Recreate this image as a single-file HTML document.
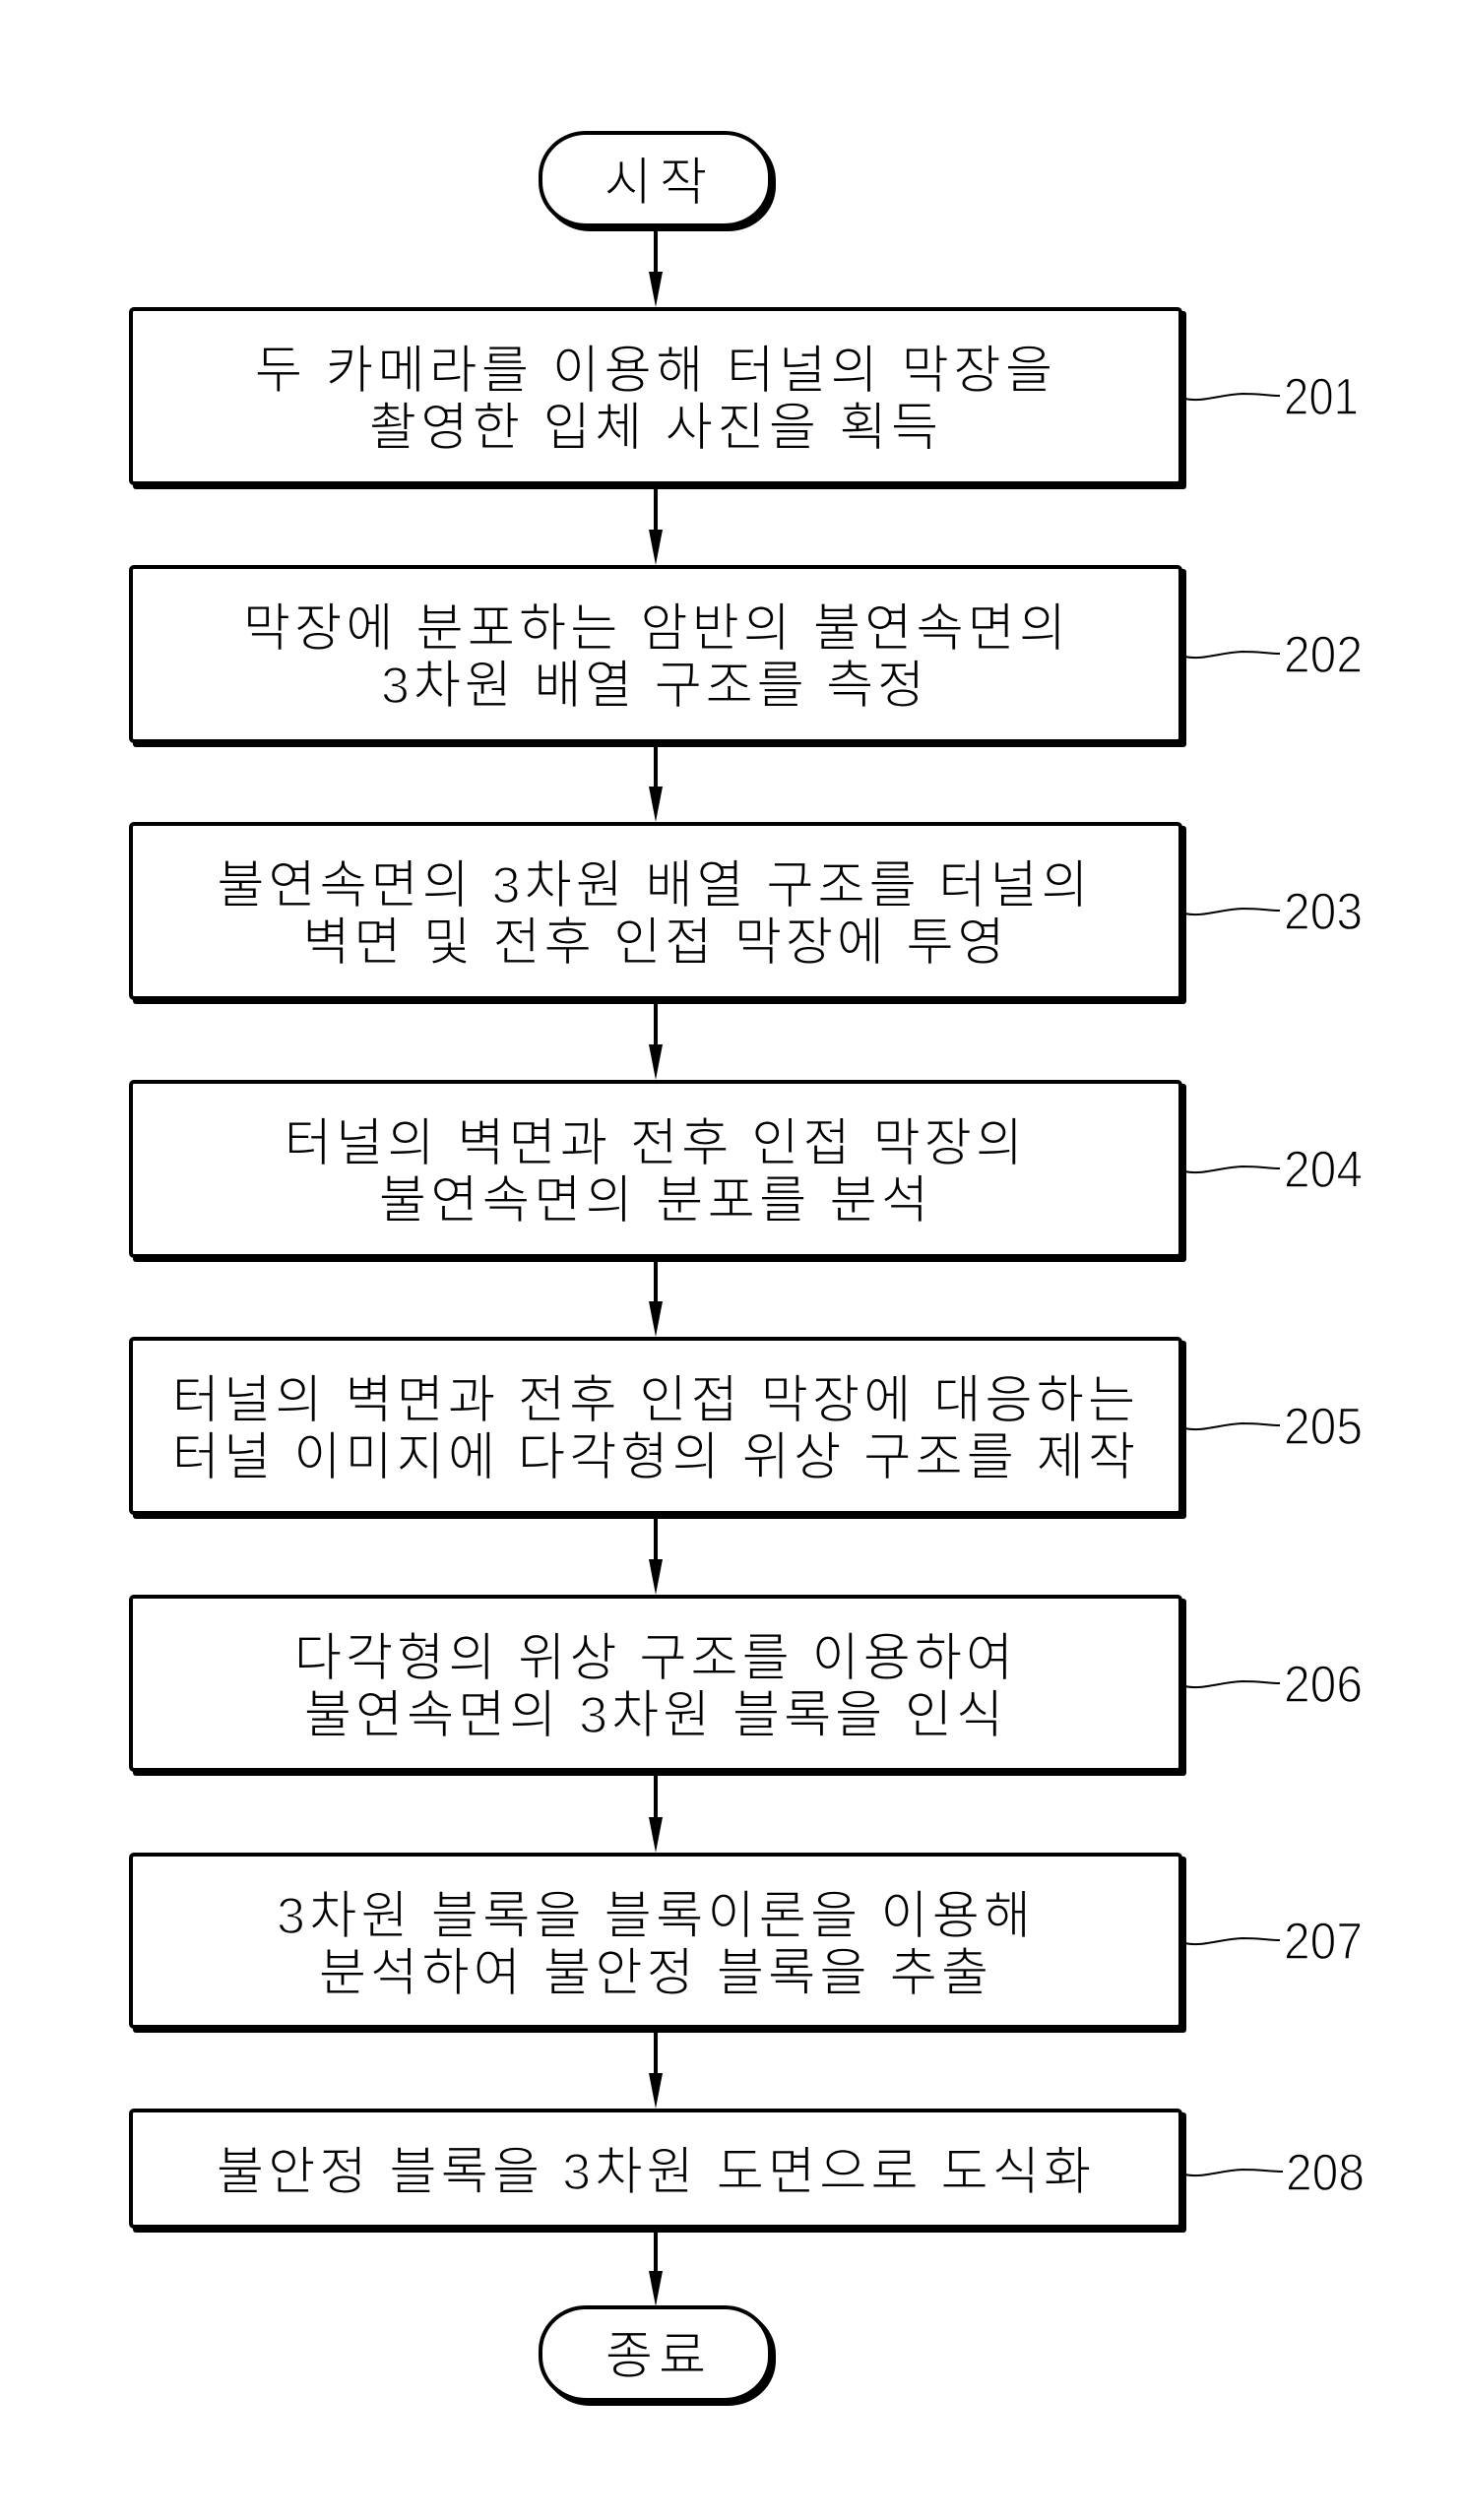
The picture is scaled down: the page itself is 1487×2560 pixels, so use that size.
<!DOCTYPE html>
<html>
<head>
<meta charset="utf-8">
<style>
html,body{margin:0;padding:0;background:#fff;}
svg{display:block;}
text{font-family:"Liberation Sans","Noto Sans CJK KR",sans-serif;fill:#000;}
.t{font-size:52px;font-weight:300;}
.n{font-size:53px;stroke:#fff;stroke-width:1.4px;}
.d{stroke:#fff;stroke-width:1.6px;}
</style>
</head>
<body>
<svg width="1487" height="2560" viewBox="0 0 1487 2560" xmlns="http://www.w3.org/2000/svg">
<rect x="0" y="0" width="1487" height="2560" fill="#fff"/>

<!-- Start terminal -->
<rect x="553" y="139" width="233" height="94" rx="46" ry="44" fill="#000" stroke="#000" stroke-width="4"/>
<rect x="549" y="135" width="233" height="94" rx="46" ry="44" fill="#fff" stroke="#000" stroke-width="4"/>
<text class="t" x="666" y="203" text-anchor="middle" textLength="104" lengthAdjust="spacing">시작</text>

<!-- End terminal -->
<rect x="553" y="2348" width="233" height="94" rx="46" ry="44" fill="#000" stroke="#000" stroke-width="4"/>
<rect x="549" y="2344" width="233" height="94" rx="46" ry="44" fill="#fff" stroke="#000" stroke-width="4"/>
<text class="t" x="666" y="2411" text-anchor="middle" textLength="102" lengthAdjust="spacing">종료</text>

<!-- Arrows -->
<g stroke="#000" stroke-width="4" fill="none">
<line x1="666" y1="235" x2="666" y2="280"/>
<line x1="666" y1="497" x2="666" y2="542"/>
<line x1="666" y1="759" x2="666" y2="803"/>
<line x1="666" y1="1020" x2="666" y2="1065"/>
<line x1="666" y1="1282" x2="666" y2="1326"/>
<line x1="666" y1="1543" x2="666" y2="1588"/>
<line x1="666" y1="1804" x2="666" y2="1850"/>
<line x1="666" y1="2065" x2="666" y2="2110"/>
<line x1="666" y1="2268" x2="666" y2="2311"/>
</g>
<g fill="#000">
<polygon points="659,276 673,276 666,312"/>
<polygon points="659,538 673,538 666,574"/>
<polygon points="659,799 673,799 666,835"/>
<polygon points="659,1061 673,1061 666,1097"/>
<polygon points="659,1322 673,1322 666,1358"/>
<polygon points="659,1584 673,1584 666,1620"/>
<polygon points="659,1846 673,1846 666,1882"/>
<polygon points="659,2106 673,2106 666,2142"/>
<polygon points="659,2307 673,2307 666,2343"/>
</g>

<!-- Boxes: shadow then main -->
<g>
<rect x="135" y="316" width="1070" height="181" rx="3" fill="#000"/>
<rect x="133" y="314" width="1066" height="177" rx="3" fill="#fff" stroke="#000" stroke-width="4"/>

<rect x="135" y="578" width="1070" height="181" rx="3" fill="#000"/>
<rect x="133" y="576" width="1066" height="177" rx="3" fill="#fff" stroke="#000" stroke-width="4"/>

<rect x="135" y="839" width="1070" height="181" rx="3" fill="#000"/>
<rect x="133" y="837" width="1066" height="177" rx="3" fill="#fff" stroke="#000" stroke-width="4"/>

<rect x="135" y="1101" width="1070" height="181" rx="3" fill="#000"/>
<rect x="133" y="1099" width="1066" height="177" rx="3" fill="#fff" stroke="#000" stroke-width="4"/>

<rect x="135" y="1362" width="1070" height="181" rx="3" fill="#000"/>
<rect x="133" y="1360" width="1066" height="177" rx="3" fill="#fff" stroke="#000" stroke-width="4"/>

<rect x="135" y="1624" width="1070" height="180" rx="3" fill="#000"/>
<rect x="133" y="1622" width="1066" height="176" rx="3" fill="#fff" stroke="#000" stroke-width="4"/>

<rect x="135" y="1886" width="1070" height="179" rx="3" fill="#000"/>
<rect x="133" y="1884" width="1066" height="175" rx="3" fill="#fff" stroke="#000" stroke-width="4"/>

<rect x="135" y="2146" width="1070" height="122" rx="3" fill="#000"/>
<rect x="133" y="2144" width="1066" height="118" rx="3" fill="#fff" stroke="#000" stroke-width="4"/>
</g>

<!-- Box texts -->
<text class="t" x="664" y="394" text-anchor="middle" textLength="810" lengthAdjust="spacing">두 카메라를 이용해 터널의 막장을</text>
<text class="t" x="664" y="452" text-anchor="middle" textLength="578" lengthAdjust="spacing">촬영한 입체 사진을 획득</text>

<text class="t" x="665" y="656" text-anchor="middle" textLength="836" lengthAdjust="spacing">막장에 분포하는 암반의 불연속면의</text>
<text class="t" x="663" y="714" text-anchor="middle" textLength="552" lengthAdjust="spacing"><tspan class="d">3</tspan>차원 배열 구조를 측정</text>

<text class="t" x="663" y="917" text-anchor="middle" textLength="885" lengthAdjust="spacing">불연속면의 <tspan class="d">3</tspan>차원 배열 구조를 터널의</text>
<text class="t" x="664" y="975" text-anchor="middle" textLength="713" lengthAdjust="spacing">벽면 및 전후 인접 막장에 투영</text>

<text class="t" x="664" y="1179" text-anchor="middle" textLength="750" lengthAdjust="spacing">터널의 벽면과 전후 인접 막장의</text>
<text class="t" x="664" y="1237" text-anchor="middle" textLength="558" lengthAdjust="spacing">불연속면의 분포를 분석</text>

<text class="t" x="664" y="1440" text-anchor="middle" textLength="978" lengthAdjust="spacing">터널의 벽면과 전후 인접 막장에 대응하는</text>
<text class="t" x="664" y="1498" text-anchor="middle" textLength="978" lengthAdjust="spacing">터널 이미지에 다각형의 위상 구조를 제작</text>

<text class="t" x="664" y="1702" text-anchor="middle" textLength="730" lengthAdjust="spacing">다각형의 위상 구조를 이용하여</text>
<text class="t" x="664" y="1760" text-anchor="middle" textLength="710" lengthAdjust="spacing">불연속면의 <tspan class="d">3</tspan>차원 블록을 인식</text>

<text class="t" x="664" y="1964" text-anchor="middle" textLength="766" lengthAdjust="spacing"><tspan class="d">3</tspan>차원 블록을 블록이론을 이용해</text>
<text class="t" x="664" y="2022" text-anchor="middle" textLength="680" lengthAdjust="spacing">분석하여 불안정 블록을 추출</text>

<text class="t" x="664" y="2224" text-anchor="middle" textLength="888" lengthAdjust="spacing">불안정 블록을 <tspan class="d">3</tspan>차원 도면으로 도식화</text>

<!-- Leader lines -->
<g stroke="#000" stroke-width="2" fill="none">
<path d="M1203,405 C1222,409 1238,401 1262,400 C1280,400 1290,402 1300,402"/>
<path d="M1203,667 C1222,671 1238,663 1262,662 C1280,662 1290,664 1300,664"/>
<path d="M1203,928 C1222,932 1238,924 1262,923 C1280,923 1290,925 1300,925"/>
<path d="M1203,1190 C1222,1194 1238,1186 1262,1185 C1280,1185 1290,1187 1300,1187"/>
<path d="M1203,1451 C1222,1455 1238,1447 1262,1446 C1280,1446 1290,1448 1300,1448"/>
<path d="M1203,1713 C1222,1717 1238,1709 1262,1708 C1280,1708 1290,1710 1300,1710"/>
<path d="M1203,1974 C1222,1978 1238,1970 1262,1969 C1280,1969 1290,1971 1300,1971"/>
<path d="M1203,2209 C1222,2213 1238,2205 1262,2204 C1280,2204 1290,2206 1303,2206"/>
</g>

<!-- Labels -->
<text class="n" x="1304" y="421" textLength="76" lengthAdjust="spacingAndGlyphs">201</text>
<text class="n" x="1304" y="683" textLength="80" lengthAdjust="spacingAndGlyphs">202</text>
<text class="n" x="1304" y="944" textLength="80" lengthAdjust="spacingAndGlyphs">203</text>
<text class="n" x="1304" y="1206" textLength="80" lengthAdjust="spacingAndGlyphs">204</text>
<text class="n" x="1304" y="1467" textLength="80" lengthAdjust="spacingAndGlyphs">205</text>
<text class="n" x="1304" y="1729" textLength="80" lengthAdjust="spacingAndGlyphs">206</text>
<text class="n" x="1304" y="1990" textLength="80" lengthAdjust="spacingAndGlyphs">207</text>
<text class="n" x="1306" y="2225" textLength="80" lengthAdjust="spacingAndGlyphs">208</text>
</svg>
</body>
</html>
